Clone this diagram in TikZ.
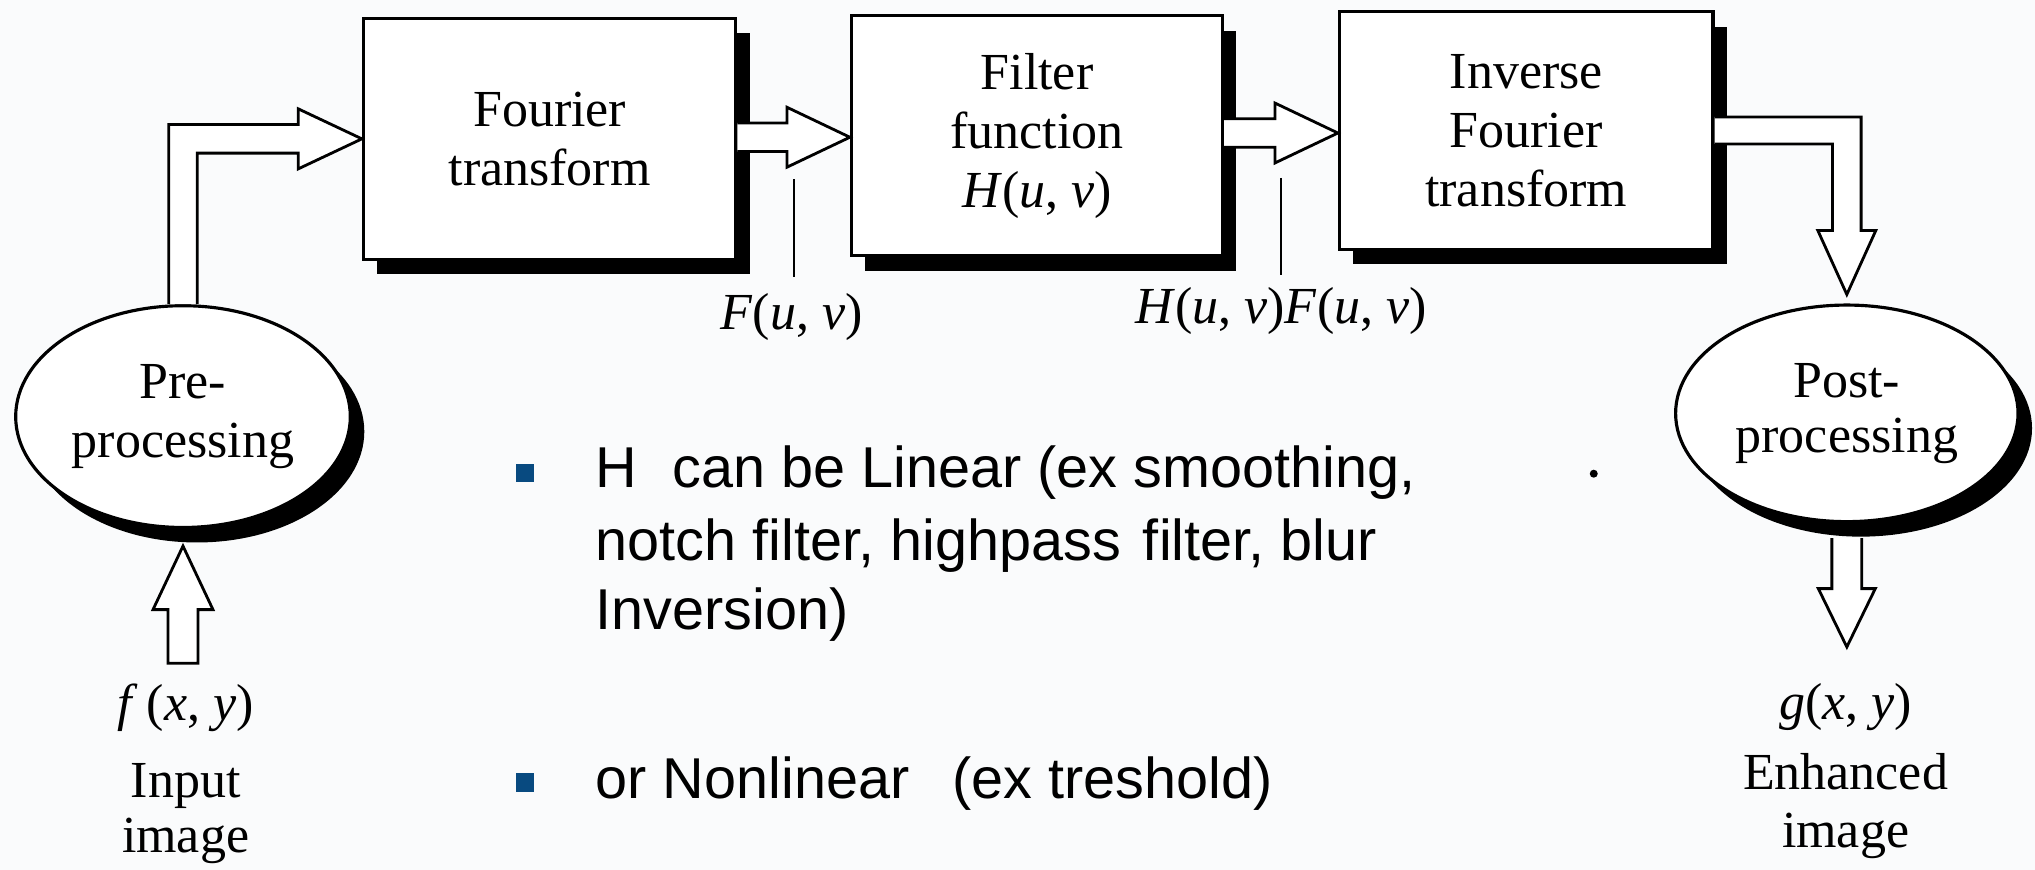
\documentclass[tikz,border=0pt]{standalone}
\usepackage{fontspec}
\setmainfont{Liberation Serif}
\newfontfamily\sansf{Liberation Sans}
\usetikzlibrary{shapes.geometric,shadows,calc}
\definecolor{bulletblue}{RGB}{8,74,128}
\definecolor{paper}{RGB}{250,251,252}
\begin{document}
\begin{tikzpicture}[x=0.012978cm,y=-0.012978cm,
  shad/.style={drop shadow={shadow xshift=0.14cm,shadow yshift=-0.15cm,fill=black,opacity=1}},
  box/.style={draw,line width=0.9pt,fill=white,inner sep=0pt,align=center,
    font=\fontsize{14.8}{16.8}\selectfont,shad},
  oval/.style={ellipse,draw,line width=0.9pt,fill=white,inner sep=0pt,align=center,
    font=\fontsize{14.8}{16.8}\selectfont,shad},
  hollow/.style={draw,line width=0.8pt,fill=white,line join=miter},
  lbl/.style={font=\fontsize{14.8}{16.8}\selectfont,inner sep=0pt,align=center},
  thinline/.style={line width=0.5pt},
  btxt/.style={font=\sansf\fontsize{16.4}{20}\selectfont,anchor=base west,inner sep=0pt},
  bsq/.style={fill=bulletblue,minimum size=0.185cm,inner sep=0pt}
]
\fill[paper] (0,0) rectangle (1568,670);
\useasboundingbox (0,0) rectangle (1568,670);

% blocks
\node[box,minimum width=3.725cm,minimum height=2.414cm] (ft) at (423.5,107) {Fourier\\transform};
\node[box,minimum width=3.712cm,minimum height=2.401cm] (ff) at (799,104.5)
  {Filter\\function\\\textit{H}(\textit{u}, \textit{v})};
\node[box,minimum width=3.738cm,minimum height=2.375cm] (fi) at (1176,100.5) {Inverse\\Fourier\\transform};
\node[oval,minimum width=3.348cm,minimum height=2.219cm] (pre) at (141,321) {Pre-\\processing};
\node[oval,minimum width=3.426cm,minimum height=2.167cm] (post) at (1423,318.5) {Post-\\[-1pt]processing};

% labels
\node[lbl] (fxy) at (143,545) {\textit{f}\,(\textit{x}, \textit{y})};
\node[lbl,font=\fontsize{14.8}{15.5}\selectfont] (inimg) at (143,627) {Input\\image};
\node[lbl] (gxy) at (1422,545) {\textit{g}(\textit{x}, \textit{y})};
\node[lbl,font=\fontsize{14.8}{16.5}\selectfont] (enimg) at (1422,621) {Enhanced\\image};
\node[lbl] (fuv) at (610,244) {\textit{F}(\textit{u}, \textit{v})};
\node[lbl] (hfuv) at (987,240) {\textit{H}(\textit{u}, \textit{v})\textit{F}(\textit{u}, \textit{v})};

% pre -> Fourier (bent hollow arrow)
\path[hollow] let \p1=(pre.north), \p2=(ft.west) in
  ({\x1-0.143cm},\y1) -- ({\x1-0.143cm},{\y2+0.143cm}) -- ({\x2-0.636cm},{\y2+0.143cm})
  -- ({\x2-0.636cm},{\y2+0.30cm}) -- (\x2,\y2) -- ({\x2-0.636cm},{\y2-0.30cm})
  -- ({\x2-0.636cm},{\y2-0.143cm}) -- ({\x1+0.143cm},{\y2-0.143cm}) -- ({\x1+0.143cm},\y1);

% Fourier -> Filter, Filter -> Inverse
\foreach \a/\b in {ft/ff,ff/fi}{
\path[hollow] let \p1=(\a.east), \p2=(\b.west), \p3=($(\a.east)!.5!(\b.west)$) in
  (\x1,{\y3+0.143cm}) -- ({\x2-0.63cm},{\y3+0.143cm}) -- ({\x2-0.63cm},{\y3+0.30cm})
  -- (\x2,\y3) -- ({\x2-0.63cm},{\y3-0.30cm}) -- ({\x2-0.63cm},{\y3-0.143cm}) -- (\x1,{\y3-0.143cm});
}

% Inverse -> post (bent hollow arrow)
\path[hollow] let \p1=(fi.east), \p2=(post.north) in
  (\x1,{\y1+0.135cm}) -- ({\x2+0.143cm},{\y1+0.135cm}) -- ({\x2+0.143cm},{\y2+0.73cm})
  -- ({\x2+0.29cm},{\y2+0.73cm}) -- (\x2,{\y2+0.09cm}) -- ({\x2-0.29cm},{\y2+0.73cm})
  -- ({\x2-0.143cm},{\y2+0.73cm}) -- ({\x2-0.143cm},{\y1-0.135cm}) -- (\x1,{\y1-0.135cm});

% input -> pre
\path[hollow] let \p1=(fxy.north), \p2=(pre.south) in
  ({\x2-0.15cm},{\y1+0.195cm}) -- ({\x2-0.15cm},{\y2-0.806cm}) -- ({\x2-0.30cm},{\y2-0.806cm})
  -- (\x2,{\y2-0.17cm}) -- ({\x2+0.30cm},{\y2-0.806cm}) -- ({\x2+0.15cm},{\y2-0.806cm})
  -- ({\x2+0.15cm},{\y1+0.195cm}) -- cycle;

% post -> output
\path[hollow] let \p1=(post.south), \p2=(gxy.north) in
  ({\x1-0.15cm},{\y1-0.15cm}) -- ({\x1-0.15cm},{\y2+0.944cm}) -- ({\x1-0.285cm},{\y2+0.944cm})
  -- (\x1,{\y2+0.36cm}) -- ({\x1+0.285cm},{\y2+0.944cm}) -- ({\x1+0.15cm},{\y2+0.944cm})
  -- ({\x1+0.15cm},{\y1-0.15cm});

% label leaders
\coordinate (fl) at (612,138);
\coordinate (hl) at (987,137);
\draw[thinline,shorten >=0.15cm] (fl) -- (fl |- fuv.north);
\draw[thinline,shorten >=0.12cm] (hl) -- (hl |- hfuv.north);

% stray dot
\fill (1228,365) circle (0.04cm);

% bullets
\node[bsq] (s1) at (404.5,364.5) {};
\node[btxt] (t1) at (458.5,376) {H\hspace{10pt}can be Linear (ex smoothing,};
\node[btxt] (t2) at (458.5,431.5) {notch filter, highpass\hspace{6.3pt}filter, blur};
\node[btxt] (t3) at (458.5,485.4) {Inversion)};
\node[bsq] (s2) at (404.5,603) {};
\node[btxt] (t4) at (458.5,615) {or Nonlinear\hspace{12.3pt}(ex treshold)};
\end{tikzpicture}
\end{document}
